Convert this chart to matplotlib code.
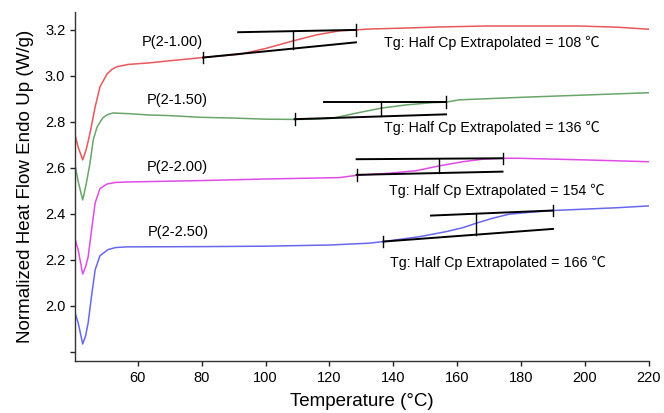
import matplotlib
matplotlib.use("Agg")
import matplotlib.pyplot as plt

plt.rcParams['font.family'] = ['Liberation Sans', 'Noto Sans CJK SC', 'DejaVu Sans']

# ---- data ----
t_red = [40.3, 41.3, 42.7, 43.8, 45.0, 46.6, 48.1, 50.3, 51.8, 53.4, 57.0, 63.75, 70.0, 80.4,
         91.9, 100.2, 108.5, 115.8, 123.1, 128.3, 132.5, 141.0, 155.0, 169.0, 198.0, 210.0, 220.0]
v_red = [2.743, 2.69, 2.635, 2.68, 2.752, 2.865, 2.952, 3.008, 3.028, 3.04, 3.05, 3.057, 3.066, 3.080,
         3.094, 3.120, 3.152, 3.178, 3.196, 3.200, 3.204, 3.207, 3.213, 3.217, 3.217, 3.212, 3.203]

t_green = [40.3, 41.3, 42.7, 43.8, 45.0, 46.0, 47.2, 49.0, 50.5, 52.2, 57.0, 63.75, 69.0, 80.0, 89.7,
           100.0, 109.1, 115.0, 121.0, 128.3, 136.2, 144.0, 152.3, 156.5, 160.6, 180.0, 200.0, 220.0]
v_green = [2.613, 2.54, 2.461, 2.53, 2.622, 2.722, 2.778, 2.818, 2.832, 2.839, 2.836, 2.83, 2.828, 2.82, 2.817,
           2.812, 2.811, 2.812, 2.816, 2.838, 2.860, 2.874, 2.884, 2.886, 2.896, 2.907, 2.917, 2.927]

t_mag = [40.3, 41.3, 42.7, 43.6, 44.4, 45.6, 46.6, 48.1, 50.3, 53.0, 56.6, 79.4, 100.0, 123.1, 128.5,
         138.75, 147.1, 154.4, 161.7, 167.9, 174.2, 179.4, 200.0, 220.0]
v_mag = [2.291, 2.243, 2.139, 2.17, 2.213, 2.343, 2.448, 2.510, 2.530, 2.537, 2.539, 2.545, 2.552, 2.558, 2.568,
         2.577, 2.588, 2.609, 2.627, 2.638, 2.642, 2.642, 2.635, 2.627]

t_blue = [40.3, 41.3, 42.7, 43.6, 44.4, 45.6, 46.6, 48.1, 50.6, 53.0, 56.6, 80.0, 100.0, 120.0, 132.5,
          136.9, 148.1, 156.5, 161.7, 166.0, 171.0, 176.25, 182.5, 190.0, 195.0, 210.0, 220.0]
v_blue = [1.970, 1.926, 1.835, 1.87, 1.926, 2.057, 2.157, 2.218, 2.245, 2.254, 2.257, 2.258, 2.260, 2.265, 2.273,
          2.280, 2.301, 2.323, 2.340, 2.36, 2.381, 2.399, 2.407, 2.415, 2.418, 2.427, 2.435]

names = ["P(2-1.00)", "P(2-1.50)", "P(2-2.00)", "P(2-2.50)"]
tg_values = [108, 136, 154, 166]
colors = ["#e8585c", "#6aa56a", "#e04ce8", "#6868ee"]

# Tg analysis: onset, midpoint, end temperatures and tangent lines
onset_t = [80.4, 109.1, 128.5, 136.9]
mid_t = [108.5, 136.2, 154.4, 166.0]
end_t = [128.3, 156.5, 174.2, 190.0]
low_start_v = [3.080, 2.812, 2.570, 2.280]
low_end_v = [3.146, 2.833, 2.584, 2.335]
up_start_t = [91.4, 118.4, 128.5, 151.8]
up_start_v = [3.190, 2.886, 2.638, 2.393]
up_end_v = [3.200, 2.886, 2.642, 2.415]

x_ticks = [60, 80, 100, 120, 140, 160, 180, 200, 220]
y_ticks = [1.8, 2.0, 2.2, 2.4, 2.6, 2.8, 3.0, 3.2]
y_ticklabels = ["", "2.0", "2.2", "2.4", "2.6", "2.8", "3.0", "3.2"]

fig = plt.figure(figsize=(6.64, 4.13), dpi=100)
ax = fig.add_axes([0.113, 0.126, 0.864, 0.845])

series = [(t_red, v_red), (t_green, v_green), (t_mag, v_mag), (t_blue, v_blue)]
for (t, v), c in zip(series, colors):
    ax.plot(t, v, color=c, lw=1.1)

tick_h = 0.025
for i in range(4):
    ax.plot([onset_t[i], end_t[i]], [low_start_v[i], low_end_v[i]], color='black', lw=1.4)
    ax.plot([up_start_t[i], end_t[i]], [up_start_v[i], up_end_v[i]], color='black', lw=1.4)
    ax.plot([onset_t[i], onset_t[i]], [low_start_v[i] - tick_h, low_start_v[i] + tick_h], color='black', lw=1.0)
    ax.plot([end_t[i], end_t[i]], [up_end_v[i] - tick_h, up_end_v[i] + tick_h], color='black', lw=1.0)
    fl = (mid_t[i] - onset_t[i]) / (end_t[i] - onset_t[i])
    lo = low_start_v[i] + fl * (low_end_v[i] - low_start_v[i])
    fu = (mid_t[i] - up_start_t[i]) / (end_t[i] - up_start_t[i])
    hi = up_start_v[i] + fu * (up_end_v[i] - up_start_v[i])
    ax.plot([mid_t[i], mid_t[i]], [lo, hi], color='black', lw=1.0)

name_pos = [(61.3, 3.148), (62.8, 2.896), (62.8, 2.604), (63.1, 2.322)]
tg_pos = [(137.2, 3.143), (137.2, 2.774), (138.75, 2.500), (139.1, 2.187)]
for i in range(4):
    ax.text(name_pos[i][0], name_pos[i][1], names[i], fontsize=10.5, va='center', ha='left')
    ax.text(tg_pos[i][0], tg_pos[i][1], f"Tg: Half Cp Extrapolated = {tg_values[i]} \u2103",
            fontsize=10.3, va='center', ha='left')

ax.set_xlim(40.3, 220)
ax.set_ylim(1.761, 3.278)
ax.set_xticks(x_ticks)
ax.set_yticks(y_ticks)
ax.set_yticklabels(y_ticklabels)
ax.tick_params(labelsize=10.5, length=3.5, width=1, colors='#222222', labelcolor='black')
for s in ['top', 'right']:
    ax.spines[s].set_visible(False)
for s in ['left', 'bottom']:
    ax.spines[s].set_color('#333333')
    ax.spines[s].set_linewidth(1.0)

ax.set_xlabel("Temperature (°C)", fontsize=13.5, labelpad=6)
ax.set_ylabel("Normalized Heat Flow Endo Up (W/g)", fontsize=13.5, labelpad=8)

fig.savefig("out.png", dpi=100)
